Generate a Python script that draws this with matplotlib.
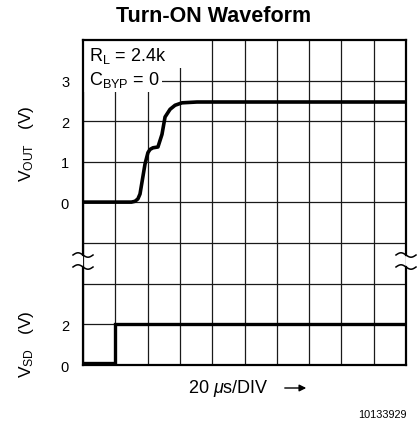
import numpy as np
import matplotlib
matplotlib.use("Agg")
import matplotlib.pyplot as plt
from matplotlib.lines import Line2D
from matplotlib.patches import Rectangle, FancyArrowPatch
from matplotlib.transforms import IdentityTransform

plt.rcParams['font.family'] = ['Liberation Sans', 'DejaVu Sans']
plt.rcParams['mathtext.fontset'] = 'custom'
plt.rcParams['mathtext.rm'] = 'Liberation Sans'
plt.rcParams['mathtext.it'] = 'Liberation Sans:italic'

# output voltage during turn-on (time in us, volts)
t_out = [0, 30, 32.2, 34, 35.3, 38.4, 40.2, 41.5, 43.3, 46.4, 48.9, 50.8, 53.9, 57, 61.3, 70.6, 200]
v_out = [0, 0, 0.02, 0.08, 0.2, 0.94, 1.22, 1.3, 1.34, 1.36, 1.67, 2.1, 2.29, 2.39, 2.45, 2.47, 2.47]

# shutdown pin drive
t_sd = [0, 20, 20, 200]
v_sd = [0.1, 0.1, 2, 2]

time_ticks = np.arange(0, 201, 20)
vout_ticks = [-1, 0, 1, 2, 3]
vout_labels = ['', '0', '1', '2', '3']
vsd_ticks = [0, 2, 4]
vsd_labels = ['0', '2', '']

W, H = 417, 431
fig = plt.figure(figsize=(W / 100, H / 100), dpi=100)

def px_rect(x0, y0, x1, y1):
    return [x0 / W, 1 - y1 / H, (x1 - x0) / W, (y1 - y0) / H]

ax_top = fig.add_axes(px_rect(83, 41, 406, 263))
ax_bot = fig.add_axes(px_rect(83, 263, 406, 366))

grid_kw = dict(color='#1a1a1a', lw=0.9)
for ax in (ax_top, ax_bot):
    ax.set_xlim(0, 200)
    ax.set_xticks(time_ticks)
    ax.set_xticklabels([])
    ax.grid(True, **grid_kw)
    ax.set_axisbelow(True)
    ax.tick_params(length=0, labelsize=10.5, pad=10, colors='black')
    for s in ax.spines.values():
        s.set_linewidth(1.6)

ax_top.set_ylim(-(263 - 203) / 40.6, 4)
ax_top.set_yticks(vout_ticks)
ax_top.set_yticklabels(vout_labels)
ax_top.spines['bottom'].set_visible(False)
ax_top.spines['left'].set_bounds(-(256 - 203) / 40.6, 4)
ax_top.spines['right'].set_bounds(-(256 - 203) / 40.6, 4)

ax_bot.set_ylim(0, 103 / 20.3)
ax_bot.set_yticks(vsd_ticks)
ax_bot.set_yticklabels(vsd_labels)
ax_bot.spines['top'].set_visible(False)
ax_bot.spines['left'].set_bounds(0, (366 - 268) / 20.3)
ax_bot.spines['right'].set_bounds(0, (366 - 268) / 20.3)

ax_top.plot(t_out, v_out, color='black', lw=2.6, solid_capstyle='butt', zorder=3)
ax_bot.plot(t_sd, v_sd, color='black', lw=2.4, solid_joinstyle='miter', zorder=3)

# white boxes behind the test conditions
ax_top.add_patch(Rectangle((0, 3.3), 63, 0.7, fc='white', ec='none', zorder=2))
ax_top.add_patch(Rectangle((0, 2.72), 49, 0.6, fc='white', ec='none', zorder=2))
ax_top.text(3.5, 3.63, r'R$_\mathregular{L}$ = 2.4k', fontsize=13, va='center', zorder=4)
ax_top.text(3.5, 3.05, r'C$_\mathregular{BYP}$ = 0', fontsize=13, va='center', zorder=4)

# axis break marks
def break_mark(xc, yc):
    xs = np.linspace(-10, 10, 40)
    ys = 2.2 * np.sin(np.pi * xs / 10)
    fig.add_artist(Line2D(xc + xs, H - (yc + ys), transform=IdentityTransform(),
                          color='black', lw=1.1))

for xc in (83, 406):
    break_mark(xc, 256)
    break_mark(xc, 268)

fig.text(214 / W, 1 - 16 / H, 'Turn-ON Waveform', fontsize=15.5, weight='bold',
         ha='center', va='center')
fig.text(27 / W, 1 - 144 / H, r'V$_\mathregular{OUT}$   (V)', fontsize=12.5,
         rotation=90, ha='center', va='center')
fig.text(27 / W, 1 - 344 / H, r'V$_\mathregular{SD}$   (V)', fontsize=12.5,
         rotation=90, ha='center', va='center')
fig.text(228 / W, 1 - 389 / H, r'20 $\mu$s/DIV', fontsize=13, ha='center', va='center')
fig.add_artist(FancyArrowPatch(
    (282 / W, 1 - 389 / H), (309 / W, 1 - 389 / H), transform=fig.transFigure,
    arrowstyle='-|>', mutation_scale=10, color='black', lw=1))
fig.text(407 / W, 1 - 415 / H, '10133929', fontsize=7.8, ha='right', va='center')

fig.savefig('out.png', dpi=100)
